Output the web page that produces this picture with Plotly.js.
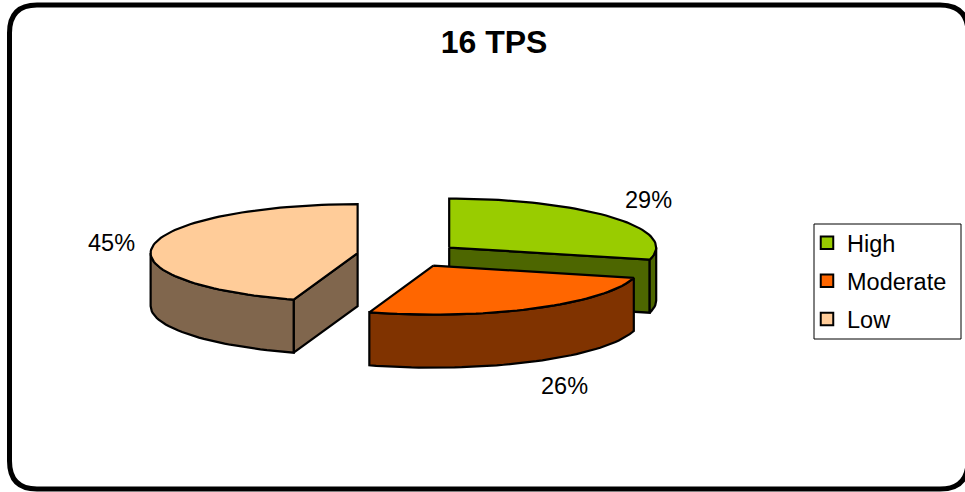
<!DOCTYPE html>
<html>
<head>
<meta charset="utf-8">
<script src="https://cdn.plot.ly/plotly-3.0.1.min.js"></script>
<style>html,body{margin:0;padding:0;background:#fff}#chart{width:965px;height:492px}</style>
</head>
<body>
<div id="chart"></div>
<script>
// Share of each level, in percent, clockwise from twelve o'clock
const categories = ['High', 'Moderate', 'Low'];
const shares = [29, 26, 45];
const topColors = ['#99CC00', '#FF6600', '#FFCC99'];
const sideColors = ['#4D6600', '#803300', '#80664D'];
// Shift of each percent label away from its slice's rim
const labelShiftX = [36, 31, -42];
const labelShiftY = [-18, 77, -2];
// Slices are painted back to front so the nearer ones overlap
const paintOrder = [0, 2, 1];

// Pie projection, in axis units
const pie = {cx: 408.5, cy: 255, rx: 207, ry: 49, depth: 53, explode: 51.5};
const FONT = '"Liberation Sans", Arial, sans-serif';
const TEXT_SIZE = 23.5;

const rad = d => d * Math.PI / 180;

function rimPoint(center, deg) {
  return [center[0] + pie.rx * Math.sin(rad(deg)), center[1] - pie.ry * Math.cos(rad(deg))];
}

function arc(center, from, to, drop) {
  const pts = [];
  const steps = Math.max(2, Math.ceil(Math.abs(to - from) / 2));
  for (let i = 0; i <= steps; i++) {
    const p = rimPoint(center, from + (to - from) * i / steps);
    pts.push([p[0], p[1] + drop]);
  }
  return pts;
}

function face(points, color, name) {
  const closed = points.concat([points[0]]);
  return {
    type: 'scatter', mode: 'lines', fill: 'toself', fillcolor: color, name: name,
    x: closed.map(p => p[0]), y: closed.map(p => p[1]),
    line: {color: '#000', width: 2.2}, showlegend: false, hoverinfo: 'skip'
  };
}

const total = shares.reduce((a, b) => a + b, 0);
let running = 0;
const slices = shares.map((v, i) => {
  const start = running / total * 360;
  running += v;
  const end = running / total * 360;
  const mid = rad((start + end) / 2);
  const center = [
    pie.cx + pie.explode * Math.sin(mid),
    pie.cy - pie.explode * (pie.ry / pie.rx) * Math.cos(mid)
  ];
  return {i, start, end, mid, center};
});

const traces = [];
paintOrder.forEach(k => {
  const s = slices[k];
  const name = categories[k];
  // Rim wall: only the part of the arc on the near half is visible
  const from = Math.max(s.start, 90), to = Math.min(s.end, 270);
  if (to > from) {
    // Cut wall at the slice's edge, when that edge faces the viewer
    const edge = s.start < 90 ? s.end : (s.end > 270 ? s.start : null);
    if (edge !== null) {
      const rim = rimPoint(s.center, edge);
      traces.push(face([
        s.center, rim, [rim[0], rim[1] + pie.depth], [s.center[0], s.center[1] + pie.depth]
      ], sideColors[k], name + ' cut'));
    }
    traces.push(face(arc(s.center, from, to, 0).concat(arc(s.center, to, from, pie.depth)),
      sideColors[k], name + ' rim'));
  }
  traces.push(face([s.center].concat(arc(s.center, s.start, s.end, 0)), topColors[k], name));
});

// Legend entries
categories.forEach((name, k) => {
  traces.push({
    type: 'scatter', mode: 'markers', name: name, legendgroup: name,
    x: [null], y: [null],
    marker: {symbol: 'square', size: 12.5, color: topColors[k], line: {color: '#000', width: 2}}
  });
});

const annotations = slices.map(s => {
  const rim = rimPoint(s.center, (s.start + s.end) / 2);
  return {
    x: rim[0] + labelShiftX[s.i], y: rim[1] + labelShiftY[s.i],
    xref: 'x', yref: 'y', text: shares[s.i] + '%', showarrow: false,
    xanchor: 'center', yanchor: 'middle',
    font: {family: FONT, size: TEXT_SIZE, color: '#000'}
  };
});

const frame = {
  type: 'path', xref: 'x', yref: 'y', layer: 'below',
  path: 'M 37 5 L 940 5 Q 968 5 968 33 L 968 461 Q 968 489 940 489 L 37 489 Q 9.5 489 9.5 461 L 9.5 33 Q 9.5 5 37 5 Z',
  line: {color: '#000', width: 5}, fillcolor: '#fff'
};
const legendBox = {
  type: 'rect', xref: 'x', yref: 'y', layer: 'below',
  x0: 814, x1: 961, y0: 224, y1: 339,
  line: {color: '#000', width: 1}, fillcolor: '#fff'
};

const layout = {
  width: 965, height: 492,
  margin: {l: 0, r: 0, t: 0, b: 0},
  paper_bgcolor: '#fff', plot_bgcolor: '#fff',
  title: {
    text: '<b>16 TPS</b>', x: 494 / 965, xanchor: 'center', xref: 'paper',
    y: 1 - 42 / 492, yanchor: 'middle', yref: 'paper',
    font: {family: FONT, size: 32, color: '#000'}
  },
  xaxis: {range: [0, 965], visible: false, fixedrange: true},
  yaxis: {range: [492, 0], visible: false, fixedrange: true},
  shapes: [frame, legendBox],
  annotations: annotations,
  showlegend: true,
  legend: {
    x: 807 / 965, xanchor: 'left', y: 1 - 221 / 492, yanchor: 'top',
    bgcolor: 'rgba(0,0,0,0)', borderwidth: 0, tracegroupgap: 4.5,
    font: {family: FONT, size: TEXT_SIZE, color: '#000'}
  }
};

Plotly.newPlot('chart', traces, layout, {displayModeBar: false, staticPlot: true});
</script>
</body>
</html>
